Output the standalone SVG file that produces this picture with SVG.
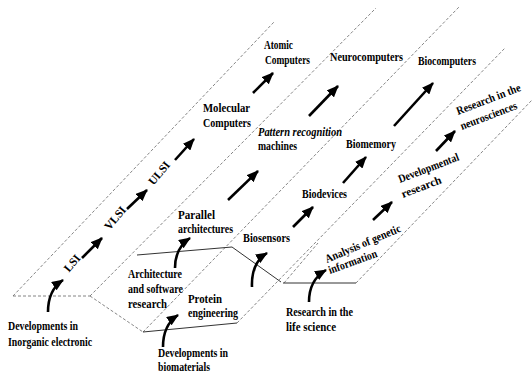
<svg xmlns="http://www.w3.org/2000/svg" width="532" height="378" viewBox="0 0 532 378">
<style>
.t{font-family:"Liberation Serif","Times New Roman",serif;font-weight:bold;font-size:11.5px;fill:#000}
.i{font-style:italic}
.b{fill:none;stroke:#666;stroke-width:0.8;stroke-dasharray:3 2}
.s{fill:none;stroke:#333;stroke-width:1}
.a{fill:none;stroke:#000;stroke-width:2.6;marker-end:url(#ah)}
</style>
<defs>
<marker id="ah" viewBox="0 0 12 10" refX="11" refY="5" markerWidth="12" markerHeight="10" markerUnits="userSpaceOnUse" orient="auto">
<path d="M0,0 L12,5 L0,10 z" fill="#000"/>
</marker>
</defs>
<rect width="532" height="378" fill="#fff"/>
<g id="planes">
<path class="b" d="M13,296 L274,22"/>
<path class="b" d="M90,296 L376,8"/>
<path class="b" d="M143,332 L459,7"/>
<path class="b" d="M237,323 L505,48"/>
<path class="b" d="M356,283 L532,100"/>
<path class="b" d="M284,283 L318,243"/>
<path class="b" d="M13,296 L90,296"/>
<path class="b" d="M90,296 L143,332"/>
<path class="s" d="M143,332 L237,323"/>
<path class="s" d="M137,255 L232,247"/>
<path class="s" stroke-width="0.8" d="M232,247 L281,282"/>
<path class="s" d="M283,283 L356,283"/>
</g>
<g id="connectors">
<path class="a" d="M48,312 Q48,290 63,280"/>
<path class="a" d="M82,258 L102,238"/>
<path class="a" d="M127,209 L147,190"/>
<path class="a" d="M175,160 L194,139"/>
<path class="a" d="M253,93 L273,73"/>
<path class="a" d="M309,116 L338,86"/>
<path class="a" d="M228,200 L258,171"/>
<path class="a" d="M175,268 Q175,248 190,238"/>
<path class="a" d="M163,347 Q163,325 178,315"/>
<path class="a" d="M252,287 Q251,263 267,253"/>
<path class="a" d="M293,227 L313,207"/>
<path class="a" d="M343,183 L366,157"/>
<path class="a" d="M394,126 L433,83"/>
<path class="a" d="M309,302 Q309,280 326,270"/>
<path class="a" d="M373,220 L392,202"/>
<path class="a" d="M436,151 L455,131"/>
</g>
<g id="inorganic"><text class="t" x="8" y="330" textLength="70" lengthAdjust="spacingAndGlyphs">Developments in</text><text class="t" x="8" y="346" textLength="84" lengthAdjust="spacingAndGlyphs">Inorganic electronic</text></g>
<g id="lsi"><text class="t" text-anchor="middle" transform="translate(72,263) rotate(-50)" y="4">LSI</text></g>
<g id="vlsi"><text class="t" text-anchor="middle" transform="translate(115,218) rotate(-50)" y="4">VLSI</text></g>
<g id="ulsi"><text class="t" text-anchor="middle" transform="translate(159,173) rotate(-50)" y="4">ULSI</text></g>
<g id="molecular"><text class="t" x="203" y="112" textLength="47" lengthAdjust="spacingAndGlyphs">Molecular</text><text class="t" x="203" y="127" textLength="48" lengthAdjust="spacingAndGlyphs">Computers</text></g>
<g id="atomic"><text class="t" x="264" y="49" textLength="29" lengthAdjust="spacingAndGlyphs">Atomic</text><text class="t" x="265" y="64" textLength="45" lengthAdjust="spacingAndGlyphs">Computers</text></g>
<g id="neuro"><text class="t" x="330" y="61" textLength="73" lengthAdjust="spacingAndGlyphs">Neurocomputers</text></g>
<g id="pattern"><text class="t i" x="258" y="136" textLength="84" lengthAdjust="spacingAndGlyphs">Pattern recognition</text><text class="t" x="258" y="150" textLength="39" lengthAdjust="spacingAndGlyphs">machines</text></g>
<g id="parallel"><text class="t" x="178" y="219" textLength="37" lengthAdjust="spacingAndGlyphs">Parallel</text><text class="t" x="178" y="233" textLength="55" lengthAdjust="spacingAndGlyphs">architectures</text></g>
<g id="architecture"><text class="t" x="128" y="278" textLength="54" lengthAdjust="spacingAndGlyphs">Architecture</text><text class="t" x="128" y="293" textLength="55" lengthAdjust="spacingAndGlyphs">and software</text><text class="t" x="128" y="308" textLength="39" lengthAdjust="spacingAndGlyphs">research</text></g>
<g id="protein"><text class="t" x="188" y="303" textLength="34" lengthAdjust="spacingAndGlyphs">Protein</text><text class="t" x="188" y="317" textLength="50" lengthAdjust="spacingAndGlyphs">engineering</text></g>
<g id="biomaterials"><text class="t" x="158" y="357" textLength="70" lengthAdjust="spacingAndGlyphs">Developments in</text><text class="t" x="158" y="371" textLength="52" lengthAdjust="spacingAndGlyphs">biomaterials</text></g>
<g id="biosensors"><text class="t" x="243" y="242" textLength="47" lengthAdjust="spacingAndGlyphs">Biosensors</text></g>
<g id="biodevices"><text class="t" x="302" y="198" textLength="45" lengthAdjust="spacingAndGlyphs">Biodevices</text></g>
<g id="biomemory"><text class="t" x="346" y="148" textLength="50" lengthAdjust="spacingAndGlyphs">Biomemory</text></g>
<g id="biocomputers"><text class="t" x="418" y="65" textLength="58" lengthAdjust="spacingAndGlyphs">Biocomputers</text></g>
<g id="lifescience"><text class="t" x="286" y="316" textLength="67" lengthAdjust="spacingAndGlyphs">Research in the</text><text class="t" x="286" y="331" textLength="50" lengthAdjust="spacingAndGlyphs">life science</text></g>
<g id="genetic"><text class="t" transform="translate(327,263) rotate(-23)" textLength="81" lengthAdjust="spacingAndGlyphs">Analysis of genetic</text><text class="t" transform="translate(330,274) rotate(-20)" textLength="51" lengthAdjust="spacingAndGlyphs">information</text></g>
<g id="developmental"><text class="t" transform="translate(400,183) rotate(-21)" textLength="64" lengthAdjust="spacingAndGlyphs">Developmental</text><text class="t" transform="translate(403,198) rotate(-21)" textLength="42" lengthAdjust="spacingAndGlyphs">research</text></g>
<g id="neurosciences"><text class="t" transform="translate(458,115) rotate(-21)" textLength="68" lengthAdjust="spacingAndGlyphs">Research in the</text><text class="t" transform="translate(462,130) rotate(-21)" textLength="60" lengthAdjust="spacingAndGlyphs">neurosciences</text></g>
</svg>
